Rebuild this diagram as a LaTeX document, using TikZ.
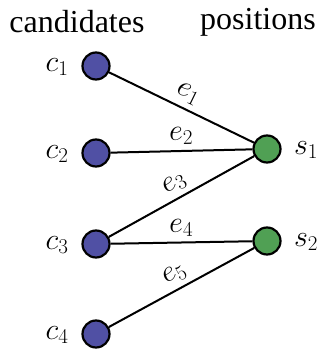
\RequirePackage{fix-cm}
\documentclass[tikz,border=0pt]{standalone}
\usepackage{fontspec}
\setmainfont{Liberation Serif}
\definecolor{cblue}{RGB}{80,80,164}
\definecolor{sgreen}{RGB}{80,160,84}
\begin{document}
\begin{tikzpicture}[x=1pt,y=1pt,
  vert/.style={circle,draw=black,line width=2.2pt,minimum size=27pt,inner sep=0pt},
  candv/.style={vert,fill=cblue},
  posv/.style={vert,fill=sgreen},
  lbl/.style={inner sep=0pt,font=\fontsize{30}{36}\selectfont},
  ttl/.style={inner sep=0pt,font=\fontsize{32}{38}\selectfont},
  conn/.style={line width=2pt},
  elbl/.style={inner sep=0pt,font=\fontsize{30}{36}\selectfont,sloped}]
\useasboundingbox (0,0) rectangle (321,349);
\node[ttl] (tc) at (77,327) {candidates};
\node[ttl] (tp) at (258,327) {positions};
\node[candv] (c1) at (96,283) {};
\node[candv] (c2) at (96,196) {};
\node[candv] (c3) at (96,105) {};
\node[candv] (c4) at (96,15) {};
\node[posv] (s1) at (267,200) {};
\node[posv] (s2) at (267,108) {};
\node[lbl] (lc1) at (57,282) {$c_1$};
\node[lbl] (lc2) at (57,195) {$c_2$};
\node[lbl] (lc3) at (57,104) {$c_3$};
\node[lbl] (lc4) at (57,14) {$c_4$};
\node[lbl] (ls1) at (306,199) {$s_1$};
\node[lbl] (ls2) at (306,107) {$s_2$};
\draw[conn] (c1) -- node[elbl,above=5pt] (e1) {$e_1$} (s1);
\draw[conn] (c2) -- node[elbl,above=5pt] (e2) {$e_2$} (s1);
\draw[conn] (c3) -- node[elbl,above=5pt] (e3) {$e_3$} (s1);
\draw[conn] (c3) -- node[elbl,above=5pt] (e4) {$e_4$} (s2);
\draw[conn] (c4) -- node[elbl,above=5pt] (e5) {$e_5$} (s2);
\end{tikzpicture}
\end{document}
